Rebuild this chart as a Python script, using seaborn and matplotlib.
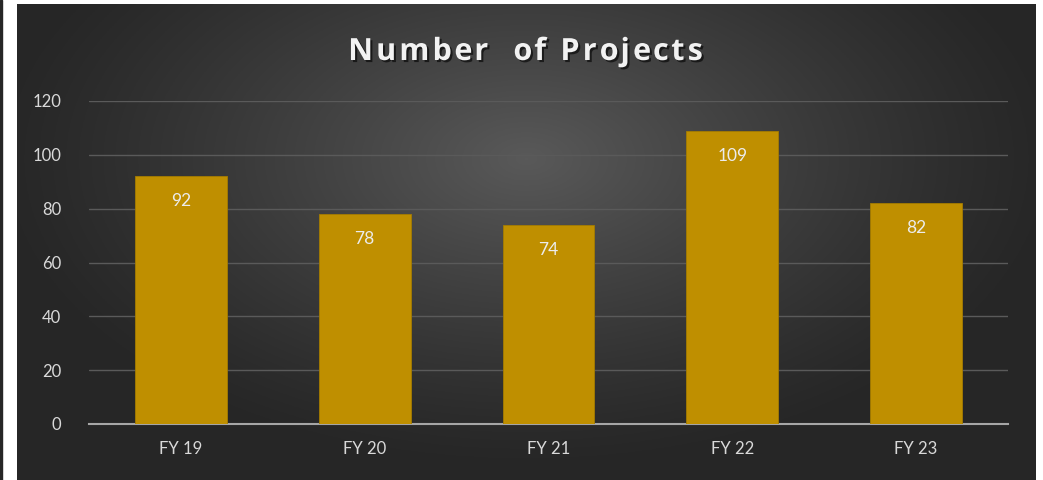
import numpy as np
import pandas as pd
import matplotlib
matplotlib.use("Agg")
import matplotlib.pyplot as plt
import matplotlib.patheffects as pe
from matplotlib.font_manager import FontProperties
import seaborn as sns

categories = ["FY 19", "FY 20", "FY 21", "FY 22", "FY 23"]
projects = [92, 78, 74, 109, 82]
y_ticks = [0, 20, 40, 60, 80, 100, 120]
title = "Number  of Projects"

sns.set_theme(style="white")
plt.rcParams['font.family'] = ['Lato', 'DejaVu Sans']

df = pd.DataFrame({"year": categories, "projects": projects})

fig = plt.figure(figsize=(10.43, 4.8), dpi=100, facecolor="white")

# dark strip on the far left
fig.add_artist(plt.Rectangle((0, 0), 2 / 1043, 1, transform=fig.transFigure,
                             color="#262626", zorder=0))

# radial gradient panel
bg = fig.add_axes([17 / 1043, 0, 1019 / 1043, 476 / 480], zorder=0)
gx, gy = np.meshgrid(np.linspace(-1, 1, 600), np.linspace(-1, 1, 300))
dist = np.sqrt((gx / 1.05) ** 2 + ((gy + 0.35) / 1.3) ** 2)
shade = np.clip(1 - dist, 0, 1) ** 1.2
rgb = 0.15 + shade * (0.35 - 0.15)
img = np.dstack([rgb, rgb, rgb])
bg.imshow(img, aspect="auto", extent=[0, 1, 0, 1], origin="upper")
bg.set_axis_off()

ax = fig.add_axes([89 / 1043, 56 / 480, 919 / 1043, 323 / 480], zorder=1)
ax.set_facecolor("none")
sns.barplot(data=df, x="year", y="projects", ax=ax, color="#BF8F00",
            width=0.5, saturation=1, edgecolor="#a57c00", linewidth=0.6, zorder=3)

ax.set_ylim(0, 120)
ax.set_yticks(y_ticks)
ax.set_xlim(-0.5, 4.5)
ax.grid(axis="y", color="#5a5a5a", linewidth=1, zorder=0)
ax.grid(axis="x", visible=False)
for s in ["top", "right", "left"]:
    ax.spines[s].set_visible(False)
ax.spines["bottom"].set_color("#a6a6a6")
ax.spines["bottom"].set_linewidth(1.5)
ax.tick_params(axis="y", length=0, pad=20, labelsize=12, labelcolor="#d9d9d9")
ax.tick_params(axis="x", length=0, pad=12, labelsize=12, labelcolor="#d9d9d9")
ax.set_xlabel("")
ax.set_ylabel("")

for i, v in enumerate(projects):
    ax.annotate(str(v), (i, v), xytext=(0, -18), textcoords="offset points",
                ha="center", va="center", fontsize=12.5, color="#ececec", zorder=4)

# title with letter spacing (Excel style), placed char by char
prop = FontProperties(family=["Open Sans", "DejaVu Sans"], weight="bold", size=22)
renderer = fig.canvas.get_renderer()
def text_w(s):
    return renderer.get_text_width_height_descent(s, prop, ismath=False)[0]
base = text_w("xx")
advances = [text_w("x" + c + "x") - base for c in title]
spacing = 3.2
total = sum(advances) + spacing * (len(title) - 1)
x = 1043 / 2 - total / 2 + 4
for c, w in zip(title, advances):
    if c != " ":
        fig.text(x / 1043, 420 / 480, c, ha="left", va="baseline",
                 fontproperties=prop, color="#f2f2f2",
                 path_effects=[pe.withSimplePatchShadow(offset=(1.5, -1.5),
                                                        shadow_rgbFace="black", alpha=0.6)])
    x += w + spacing

fig.savefig("out.png", dpi=100, facecolor="white")
